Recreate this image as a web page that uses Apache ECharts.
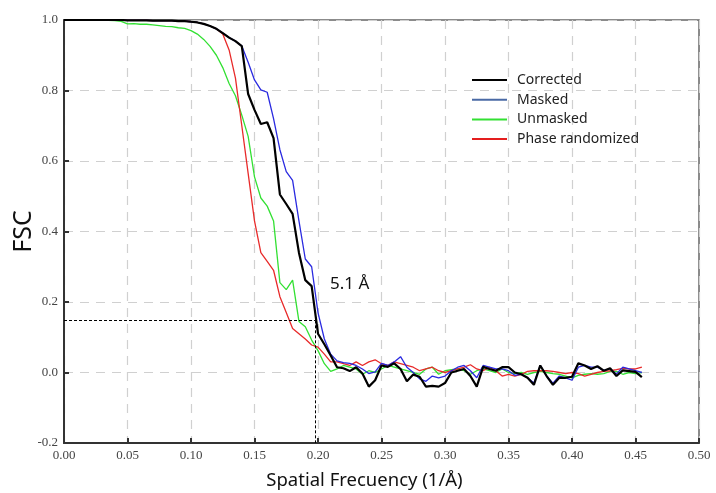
<!DOCTYPE html>
<html>
<head>
<meta charset="utf-8">
<script src="https://cdn.jsdelivr.net/npm/echarts@6/dist/echarts.min.js"></script>
<style>
  html, body { margin: 0; padding: 0; background: #fff; }
  #container { width: 716px; height: 493px; }
</style>
</head>
<body>
<div id="container"></div>
<script>
// spatial frequency shells (1/Å)
var freq = [
  0.000, 0.005, 0.010, 0.015, 0.020, 0.025, 0.030, 0.035, 0.040, 0.045,
  0.050, 0.055, 0.060, 0.065, 0.070, 0.075, 0.080, 0.085, 0.090, 0.095,
  0.100, 0.105, 0.110, 0.115, 0.120, 0.125, 0.130, 0.135, 0.140, 0.145,
  0.150, 0.155, 0.160, 0.165, 0.170, 0.175, 0.180, 0.185, 0.190, 0.195,
  0.200, 0.205, 0.210, 0.215, 0.220, 0.225, 0.230, 0.235, 0.240, 0.245,
  0.250, 0.255, 0.260, 0.265, 0.270, 0.275, 0.280, 0.285, 0.290, 0.295,
  0.300, 0.305, 0.310, 0.315, 0.320, 0.325, 0.330, 0.335, 0.340, 0.345,
  0.350, 0.355, 0.360, 0.365, 0.370, 0.375, 0.380, 0.385, 0.390, 0.395,
  0.400, 0.405, 0.410, 0.415, 0.420, 0.425, 0.430, 0.435, 0.440, 0.445,
  0.450, 0.455
];

var corrected = [
  1.0, 1.0, 1.0, 1.0, 1.0, 1.0, 1.0, 1.0, 1.0, 1.0,
  0.999, 0.999, 0.999, 0.999, 0.998, 0.998, 0.998, 0.998, 0.997, 0.997,
  0.995, 0.993, 0.989, 0.983, 0.975, 0.963, 0.950, 0.940, 0.926, 0.790,
  0.745, 0.705, 0.710, 0.665, 0.505, 0.478, 0.450, 0.340, 0.262, 0.245,
  0.110, 0.080, 0.048, 0.015, 0.012, 0.004, 0.015, -0.003, -0.040, -0.022,
  0.020, 0.016, 0.026, 0.010, -0.025, -0.006, -0.012, -0.040, -0.038, -0.040,
  -0.030, 0.000, 0.005, 0.010, -0.010, -0.040, 0.016, 0.010, 0.005, 0.015,
  0.015, 0.000, -0.005, -0.015, -0.035, 0.020, -0.010, -0.035, -0.015, -0.015,
  -0.012, 0.026, 0.020, 0.010, 0.018, 0.005, 0.012, -0.010, 0.006, 0.004,
  0.002, -0.013
];

var masked = [
  1.0, 1.0, 1.0, 1.0, 1.0, 1.0, 1.0, 1.0, 1.0, 1.0,
  0.999, 0.999, 0.999, 0.999, 0.998, 0.998, 0.998, 0.998, 0.997, 0.997,
  0.995, 0.993, 0.989, 0.983, 0.975, 0.963, 0.950, 0.940, 0.926, 0.880,
  0.830, 0.802, 0.795, 0.720, 0.632, 0.570, 0.545, 0.430, 0.322, 0.300,
  0.170, 0.095, 0.052, 0.033, 0.028, 0.026, 0.020, 0.010, -0.003, 0.002,
  0.026, 0.020, 0.030, 0.045, 0.015, 0.000, -0.018, -0.025, -0.010, -0.015,
  -0.010, 0.005, 0.015, 0.020, 0.005, -0.015, 0.020, 0.015, 0.010, 0.010,
  0.005, -0.008, -0.005, -0.015, -0.030, 0.020, -0.010, -0.030, -0.010, -0.015,
  -0.022, 0.015, 0.020, 0.015, 0.015, 0.006, 0.010, -0.004, 0.015, 0.010,
  0.005, 0.000
];

var unmasked = [
  1.0, 1.0, 1.0, 1.0, 1.0, 1.0, 0.999, 0.999, 0.998, 0.996,
  0.989, 0.990, 0.988, 0.988, 0.986, 0.984, 0.982, 0.981, 0.978, 0.976,
  0.970, 0.960, 0.945, 0.925, 0.900, 0.865, 0.820, 0.785, 0.730, 0.670,
  0.555, 0.495, 0.472, 0.430, 0.255, 0.235, 0.262, 0.145, 0.130, 0.092,
  0.062, 0.025, 0.003, 0.010, 0.020, 0.015, 0.010, -0.005, 0.005, 0.000,
  0.010, 0.020, 0.015, 0.010, 0.005, 0.000, -0.005, 0.010, 0.015, -0.005,
  0.005, 0.008, 0.010, 0.005, -0.005, 0.005, 0.010, 0.005, 0.000, 0.010,
  0.000, -0.003, 0.000, -0.005, 0.000, 0.003, 0.000, -0.003, -0.005, -0.010,
  -0.015, -0.008, -0.005, -0.003, -0.005, -0.003, 0.003, 0.003, -0.005, 0.000,
  -0.003, 0.000
];

var phaseRandomized = [
  1.0, 1.0, 1.0, 1.0, 1.0, 1.0, 1.0, 1.0, 1.0, 1.0,
  0.999, 0.999, 0.999, 0.999, 0.998, 0.998, 0.998, 0.998, 0.997, 0.997,
  0.995, 0.993, 0.989, 0.983, 0.975, 0.960, 0.915, 0.835, 0.700, 0.565,
  0.430, 0.340, 0.315, 0.290, 0.215, 0.170, 0.125, 0.110, 0.095, 0.078,
  0.072, 0.052, 0.030, 0.030, 0.025, 0.020, 0.030, 0.020, 0.030, 0.036,
  0.025, 0.020, 0.030, 0.025, 0.020, 0.015, 0.005, 0.010, 0.015, 0.005,
  0.000, 0.005, 0.010, 0.015, 0.022, 0.010, 0.005, 0.015, 0.005, -0.010,
  -0.005, -0.010, -0.005, 0.003, 0.005, 0.005, 0.005, 0.003, 0.000, -0.003,
  0.000, -0.003, -0.010, -0.005, 0.000, 0.003, 0.005, 0.008, 0.012, 0.010,
  0.010, 0.015
];

// cutoff
var cutoffFreq = 0.1976;
var cutoffFsc = 0.148;
var cutoffLabel = '5.1 Å';

function pairs(ys) {
  return freq.map(function (x, i) { return [x, ys[i]]; });
}

var dom = document.getElementById('container');
var myChart = echarts.init(dom);

var tickFont = {
  fontFamily: 'Liberation Serif',
  fontSize: 13,
  color: '#444'
};

var option = {
  backgroundColor: '#fff',
  animation: false,
  grid: {
    left: 64,
    right: 17,
    top: 20,
    bottom: 50,
    outerBoundsMode: 'none',
    containLabel: false,
    show: true,
    borderColor: '#666',
    borderWidth: 1.5
  },
  legend: {
    orient: 'vertical',
    left: 472,
    top: 73,
    padding: 0,
    itemWidth: 35,
    itemHeight: 2,
    itemGap: 5.7,
    icon: 'rect',
    textStyle: {
      fontFamily: 'Noto Sans',
      fontSize: 14,
      color: '#222',
      padding: [0, 0, 0, 5]
    },
    data: [
      { name: 'Corrected', itemStyle: { color: '#000' } },
      { name: 'Masked', itemStyle: { color: '#4a6aa5' } },
      { name: 'Unmasked', itemStyle: { color: '#33e033' } },
      { name: 'Phase randomized', itemStyle: { color: '#e41e1e' } }
    ]
  },
  xAxis: {
    type: 'value',
    min: 0,
    max: 0.5,
    interval: 0.05,
    name: 'Spatial Frecuency (1/Å)',
    nameLocation: 'middle',
    nameGap: 28,
    nameTextStyle: {
      fontFamily: 'Noto Sans',
      fontSize: 18.5,
      color: '#111',
      padding: [0, 34, 0, 0]
    },
    axisLine: { onZero: false, lineStyle: { color: '#333', width: 2 } },
    axisTick: { inside: true, length: 5, lineStyle: { color: '#333', width: 2 } },
    axisLabel: Object.assign({
      margin: 6,
      formatter: function (v) { return v.toFixed(2); }
    }, tickFont),
    splitLine: { lineStyle: { color: '#d0d0d0', type: [9, 7], width: 1.2 } }
  },
  yAxis: {
    type: 'value',
    min: -0.2,
    max: 1.0,
    interval: 0.2,
    name: 'FSC',
    nameLocation: 'middle',
    nameGap: 28,
    nameMoveOverlap: false,
    nameRotate: 90,
    nameTextStyle: { fontFamily: 'Noto Sans', fontSize: 25, color: '#111' },
    axisLine: { onZero: false, lineStyle: { color: '#333', width: 2 } },
    axisTick: { inside: true, length: 5, lineStyle: { color: '#333', width: 2 } },
    axisLabel: Object.assign({
      margin: 6,
      formatter: function (v) { return v.toFixed(1); }
    }, tickFont),
    splitLine: { lineStyle: { color: '#d0d0d0', type: [9, 7], width: 1.2 } }
  },
  series: [
    {
      name: 'Unmasked',
      type: 'line',
      data: pairs(unmasked),
      showSymbol: false,
      color: '#33e033',
      lineStyle: { width: 1.3 }
    },
    {
      name: 'Phase randomized',
      type: 'line',
      data: pairs(phaseRandomized),
      showSymbol: false,
      color: '#e82a2a',
      lineStyle: { width: 1.3 }
    },
    {
      name: 'Masked',
      type: 'line',
      data: pairs(masked),
      showSymbol: false,
      color: '#2a2ae0',
      lineStyle: { width: 1.3 }
    },
    {
      name: 'Corrected',
      type: 'line',
      data: pairs(corrected),
      showSymbol: false,
      color: '#000',
      lineStyle: { width: 2.2 },
      markLine: {
        silent: true,
        symbol: 'none',
        label: { show: false },
        lineStyle: { color: '#000', type: [3, 2], width: 1 },
        data: [
          [{ coord: [0, cutoffFsc] }, { coord: [cutoffFreq, cutoffFsc] }],
          [{ coord: [cutoffFreq, cutoffFsc] }, { coord: [cutoffFreq, -0.2] }]
        ]
      },
      markPoint: {
        silent: true,
        symbol: 'circle',
        symbolSize: 0,
        data: [{ coord: [0.2055, 0.25] }],
        label: {
          show: true,
          position: 'right',
          formatter: cutoffLabel,
          fontFamily: 'Noto Sans',
          fontSize: 17,
          color: '#111'
        }
      }
    }
  ]
};

if (option && typeof option === 'object') {
  myChart.setOption(option, true);
}
</script>
</body>
</html>
